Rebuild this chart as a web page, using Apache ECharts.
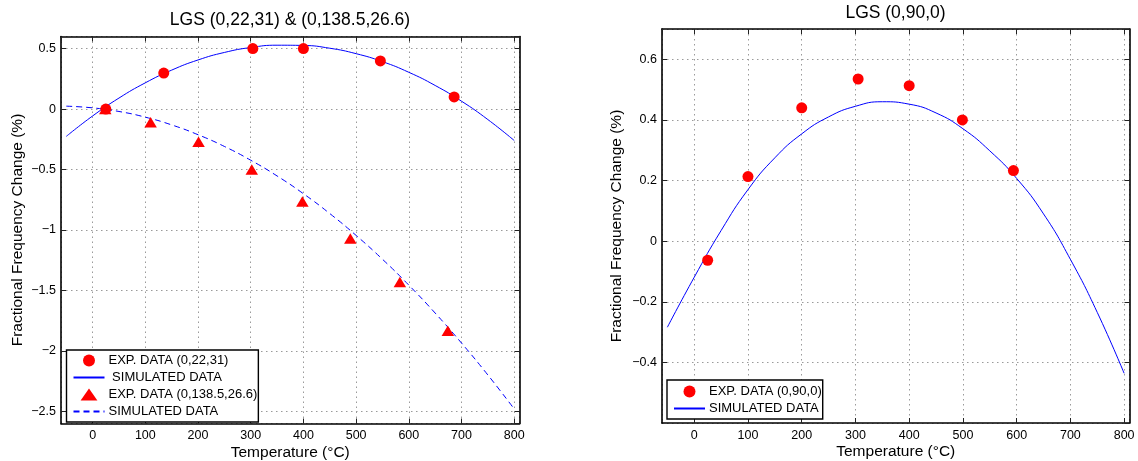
<!DOCTYPE html>
<html>
<head>
<meta charset="utf-8">
<script src="https://cdn.jsdelivr.net/npm/echarts@6/dist/echarts.min.js"></script>
<style>
  html, body { margin: 0; padding: 0; background: #fff; }
  #chart { width: 1138px; height: 461px; }
</style>
</head>
<body>
<div id="chart"></div>
<script>
// ---------- data ----------
const titles = ['LGS (0,22,31) & (0,138.5,26.6)', 'LGS (0,90,0)'];
const xAxisName = 'Temperature (°C)';
const yAxisName = 'Fractional Frequency Change (%)';

// left panel
const leftCircleX = [25, 135, 304, 400, 546, 686];
const leftCircleY = [0, 0.298, 0.5, 0.5, 0.398, 0.1];
const leftTriX = [24, 110, 201, 302, 398, 489, 583, 674];
const leftTriY = [0, -0.11, -0.27, -0.5, -0.765, -1.07, -1.43, -1.833];
const simX = [-50, 0, 50, 100, 150, 200, 250, 300, 350, 400, 450, 500, 550, 600, 650, 700, 750, 800];
const leftSolidY = [-0.226, -0.057, 0.091, 0.217, 0.322, 0.406, 0.468, 0.509, 0.528, 0.526, 0.503, 0.458, 0.392, 0.304, 0.195, 0.065, -0.087, -0.26];
const leftDashY = [0.024, 0.01, -0.02, -0.067, -0.131, -0.212, -0.309, -0.423, -0.553, -0.70, -0.864, -1.045, -1.242, -1.456, -1.687, -1.935, -2.199, -2.48];

// right panel
const rightCircleX = [25, 100, 200, 305, 400, 499, 594];
const rightCircleY = [-0.063, 0.213, 0.44, 0.535, 0.513, 0.40, 0.233];
const rightSimY = [-0.284, -0.119, 0.035, 0.170, 0.275, 0.354, 0.410, 0.445, 0.460, 0.452, 0.423, 0.371, 0.298, 0.207, 0.090, -0.060, -0.235, -0.436];

// legend entries (series name -> displayed text)
const leftNames = ['EXP. DATA (0,22,31)', 'SIMULATED DATA (0,22,31)', 'EXP. DATA (0,138.5,26.6)', 'SIMULATED DATA (0,138.5,26.6)'];
const leftLabels = ['EXP. DATA (0,22,31)', ' SIMULATED DATA', 'EXP. DATA (0,138.5,26.6)', 'SIMULATED DATA'];
const rightNames = ['EXP. DATA (0,90,0)', 'SIMULATED DATA (0,90,0)'];
const rightLabels = ['EXP. DATA (0,90,0)', 'SIMULATED DATA'];

// axis ranges
const xRange = [-60, 810];
const leftYRange = [-2.6, 0.6];
const rightYRange = [-0.6, 0.7];

// ---------- helpers ----------
const FONT = 'Liberation Sans, Arial, Helvetica, sans-serif';
const pair = (xs, ys) => xs.map((x, i) => [x, ys[i]]);
const labelMap = {};
leftNames.forEach((n, i) => labelMap[n] = leftLabels[i]);
rightNames.forEach((n, i) => labelMap[n] = rightLabels[i]);

const fmtY = v => {
  const r = Math.round(v * 10) / 10;
  return (r < 0 ? '\u2212' : '') + String(Math.abs(r));
};

function xAx(gridIndex, position, main) {
  return {
    type: 'value', gridIndex, position,
    min: xRange[0], max: xRange[1], splitNumber: 9,
    name: main ? xAxisName : '',
    nameLocation: 'middle', nameGap: 21, nameMoveOverlap: false,
    nameTextStyle: { fontFamily: FONT, fontSize: 15.5, color: '#000' },
    axisLine: { show: true, onZero: false, lineStyle: { color: '#000', width: 1.6 } },
    axisTick: { show: true, inside: true, length: 5, lineStyle: { color: '#222', width: 1 } },
    axisLabel: { show: main, margin: 6, showMinLabel: false, showMaxLabel: false,
      fontFamily: FONT, fontSize: 12.5, color: '#000' },
    splitLine: { show: main, lineStyle: { color: '#9a9a9a', width: 1, type: [1.5, 3.5] } }
  };
}
function yAx(gridIndex, position, main, range, gap) {
  return {
    type: 'value', gridIndex, position,
    min: range[0], max: range[1], splitNumber: 6,
    name: main ? yAxisName : '',
    nameLocation: 'middle', nameGap: gap, nameMoveOverlap: false,
    nameTextStyle: { fontFamily: FONT, fontSize: 15.5, color: '#000' },
    axisLine: { show: true, onZero: false, lineStyle: { color: '#000', width: 1.6 } },
    axisTick: { show: true, inside: true, length: 5, lineStyle: { color: '#222', width: 1 } },
    axisLabel: { show: main, margin: 5, showMinLabel: false, showMaxLabel: false,
      fontFamily: FONT, fontSize: 12.5, color: '#000', formatter: fmtY },
    splitLine: { show: main, lineStyle: { color: '#9a9a9a', width: 1, type: [1.5, 3.5] } }
  };
}
const TRI_ICON = 'path://M7,0L14,10L0,10Z';
function legendItems(names, kinds) {
  return names.map((n, i) => {
    if (kinds[i] === 'line') return { name: n, itemStyle: { opacity: 0 } };
    if (kinds[i] === 'tri') return { name: n, icon: TRI_ICON };
    return { name: n, icon: 'circle' };
  });
}
function legendCfg(items, left, top, padding) {
  return {
    data: items, orient: 'vertical', left, top, padding,
    itemWidth: 31, itemHeight: 12, itemGap: 4,
    symbolKeepAspect: true,
    borderColor: '#000', borderWidth: 1.4, backgroundColor: '#fff',
    selectedMode: false,
    formatter: n => labelMap[n],
    textStyle: { fontFamily: FONT, fontSize: 13, color: '#000', padding: [0, 0, 0, -1] }
  };
}

const option = {
  animation: false,
  backgroundColor: '#fff',
  graphic: [
    { type: 'text', x: 290, y: 20, style: { text: titles[0], textAlign: 'center', textVerticalAlign: 'middle',
      font: '17.5px ' + FONT, fill: '#000' } },
    { type: 'text', x: 895.5, y: 13, style: { text: titles[1], textAlign: 'center', textVerticalAlign: 'middle',
      font: '17.5px ' + FONT, fill: '#000' } }
  ],
  grid: [
    { left: 61, top: 36.5, width: 458.5, height: 387, outerBoundsMode: 'none', containLabel: false },
    { left: 662, top: 29, width: 467.5, height: 394, outerBoundsMode: 'none', containLabel: false }
  ],
  xAxis: [xAx(0, 'bottom', true), xAx(0, 'top', false), xAx(1, 'bottom', true), xAx(1, 'top', false)],
  yAxis: [yAx(0, 'left', true, leftYRange, 35), yAx(0, 'right', false, leftYRange, 0),
          yAx(1, 'left', true, rightYRange, 37), yAx(1, 'right', false, rightYRange, 0)],
  legend: [
    legendCfg(legendItems(leftNames, ['circle', 'line', 'tri', 'line']), 66.5, 350, [4, 1, 4, 6]),
    legendCfg(legendItems(rightNames, ['circle', 'line']), 667, 380, [5, 1, 4, 6])
  ],
  series: [
    { name: leftNames[1], type: 'line', xAxisIndex: 0, yAxisIndex: 0, data: pair(simX, leftSolidY),
      smooth: true, symbol: 'none', showSymbol: false, lineStyle: { color: '#0000ff', width: 1 }, itemStyle: { color: '#0000ff' }, z: 2 },
    { name: leftNames[3], type: 'line', xAxisIndex: 0, yAxisIndex: 0, data: pair(simX, leftDashY),
      smooth: true, symbol: 'none', showSymbol: false, lineStyle: { color: '#0000ff', width: 1, type: [6, 4] }, itemStyle: { color: '#0000ff' }, z: 2 },
    { name: leftNames[0], type: 'scatter', xAxisIndex: 0, yAxisIndex: 0, data: pair(leftCircleX, leftCircleY),
      symbol: 'circle', symbolSize: 11, itemStyle: { color: '#ff0000', opacity: 1 }, z: 3 },
    { name: leftNames[2], type: 'scatter', xAxisIndex: 0, yAxisIndex: 0, data: pair(leftTriX, leftTriY),
      symbol: 'triangle', symbolSize: [12.5, 10.5], itemStyle: { color: '#ff0000', opacity: 1 }, z: 3 },
    { name: rightNames[1], type: 'line', xAxisIndex: 2, yAxisIndex: 2, data: pair(simX, rightSimY),
      smooth: true, symbol: 'none', showSymbol: false, lineStyle: { color: '#0000ff', width: 1 }, itemStyle: { color: '#0000ff' }, z: 2 },
    { name: rightNames[0], type: 'scatter', xAxisIndex: 2, yAxisIndex: 2, data: pair(rightCircleX, rightCircleY),
      symbol: 'circle', symbolSize: 11, itemStyle: { color: '#ff0000', opacity: 1 }, z: 3 }
  ]
};

const chart = echarts.init(document.getElementById('chart'), null, { renderer: 'canvas' });
chart.setOption(option);
</script>
</body>
</html>
